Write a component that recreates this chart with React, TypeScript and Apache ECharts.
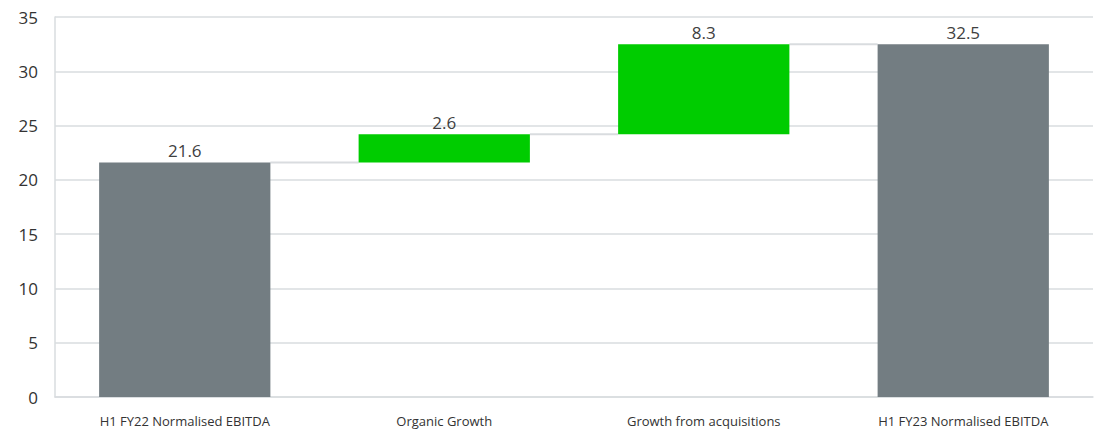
import React, { useEffect, useRef } from "react";
import * as echarts from "echarts";

const categories = [
  "H1 FY22 Normalised EBITDA",
  "Organic Growth",
  "Growth from acquisitions",
  "H1 FY23 Normalised EBITDA",
];
const baseValues = [0, 21.6, 24.2, 0];
const deltaValues = [21.6, 2.6, 8.3, 32.5];
const barColors = ["#737d82", "#00cc00", "#00cc00", "#737d82"];
const connectorLevels = [21.6, 24.2, 32.5];
const yTicks = { min: 0, max: 35, interval: 5 };

const BAR_PCT = 0.66;

export default function App() {
  const ref = useRef<HTMLDivElement>(null);
  useEffect(() => {
    if (!ref.current) return;
    const chart = echarts.init(ref.current, undefined, { renderer: "svg" });
    chart.setOption({
      animation: false,
      textStyle: { fontFamily: "'Open Sans', sans-serif" },
      grid: { left: 55, right: 6, top: 17, bottom: 35, containLabel: false },
      xAxis: {
        type: "category",
        data: categories,
        axisLine: { show: true, lineStyle: { color: "#d9dcdf", width: 1.5 } },
        axisTick: { show: false },
        axisLabel: { color: "#333", fontSize: 13, margin: 17 },
      },
      yAxis: {
        type: "value",
        min: yTicks.min,
        max: yTicks.max,
        interval: yTicks.interval,
        axisLine: { show: true, lineStyle: { color: "#d9dcdf", width: 1.5 } },
        axisTick: { show: false },
        splitLine: { lineStyle: { color: "#d9dcdf", width: 1.5 } },
        axisLabel: { color: "#333", fontSize: 17, margin: 17 },
      },
      series: [
        {
          type: "bar",
          stack: "w",
          data: baseValues,
          barWidth: BAR_PCT * 100 + "%",
          itemStyle: { color: "transparent" },
          emphasis: { disabled: true },
          silent: true,
        },
        {
          type: "bar",
          stack: "w",
          barWidth: BAR_PCT * 100 + "%",
          data: deltaValues.map((v, i) => ({ value: v, itemStyle: { color: barColors[i] } })),
          label: {
            show: true,
            position: "top",
            distance: 3,
            color: "#404040",
            fontSize: 17,
            formatter: (p: any) => String(p.value),
          },
        },
        {
          type: "custom",
          silent: true,
          z: 1,
          data: connectorLevels.map((v, i) => [i, v]),
          renderItem: (params: any, api: any) => {
            const i = api.value(0);
            const v = api.value(1);
            const pt = api.coord([i, v]);
            const band = api.size([1, 0])[0];
            const half = (band * BAR_PCT) / 2;
            return {
              type: "line",
              shape: { x1: pt[0] + half, y1: pt[1], x2: pt[0] + band - half, y2: pt[1] },
              style: { stroke: "#d9dcdf", lineWidth: 2 },
            };
          },
        },
      ],
    });
    return () => chart.dispose();
  }, []);
  return (
    <div
      ref={ref}
      style={{ position: "absolute", left: 0, top: 0, width: 1099, height: 432 }}
    />
  );
}
